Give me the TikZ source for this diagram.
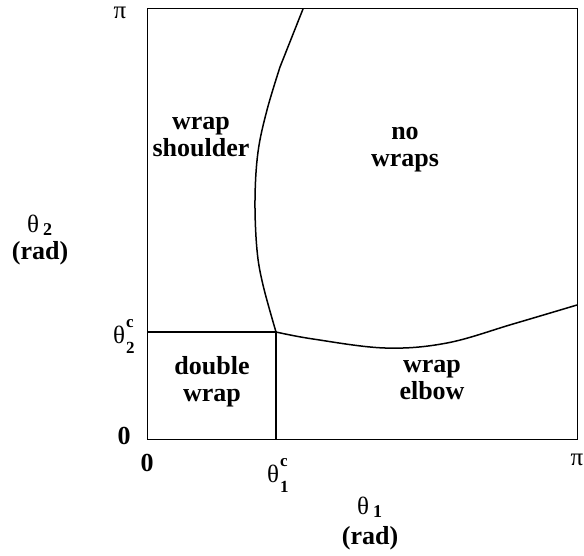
\documentclass[tikz,border=0pt]{standalone}
\usepackage{fontspec}
\setmainfont{Liberation Serif}
\tikzset{
  lbl/.style={font=\fontsize{26}{27}\selectfont\bfseries, align=center, inner sep=0pt},
  sym/.style={font=\fontsize{25}{26}\selectfont, inner sep=0pt},
  bound/.style={line width=1.5pt},
  frame/.style={line width=1pt}
}
\newcommand{\thsub}[2]{θ\kern1pt\rlap{\raisebox{0.62em}{\fontsize{17}{17}\selectfont\bfseries #2}}\raisebox{-0.42em}{\fontsize{17}{17}\selectfont\bfseries #1}}
\newcommand{\thaxis}[1]{θ\kern4pt\raisebox{-0.12em}{\fontsize{18}{18}\selectfont\bfseries #1}}
\begin{document}
\begin{tikzpicture}[x=1pt,y=-1pt]
\useasboundingbox (0,0) rectangle (584,556);
\coordinate (O) at (147,439);
\coordinate (TR) at (577,9);
\coordinate (C) at (276,332);
\coordinate (L) at (147,332);
\coordinate (B) at (276,439);
\coordinate (T) at (303,9);
\coordinate (K) at (280,67);
\coordinate (R) at (577,305);
\draw[frame] (O) rectangle (TR);
\draw[bound] (L) -- (C) -- (B);
\draw[bound] (T) -- (K);
\draw[bound] plot[smooth, tension=0.6] coordinates {(K) (267,110) (258,152) (255,200) (257,250) (263,285) (C)};
\draw[bound] plot[smooth, tension=0.6] coordinates {(C) (313,339) (385,348) (447,343) (513,324) (R)};
\node[sym] (pitop) at (120,13) {π};
\node[sym] (pibot) at (577,460) {π};
\node[lbl] (zl) at (124,436) {0};
\node[lbl] (zb) at (147,463) {0};
\node[sym, anchor=base west] (t2c) at (113,343) {\thsub{2}{c}};
\node[sym, anchor=base west] (t1c) at (267,482) {\thsub{1}{c}};
\node[sym, anchor=base west] (t2) at (27,233) {\thaxis{2}};
\node[lbl] (r2) at (40,253) {(rad)};
\node[sym, anchor=base west] (t1) at (357,514) {\thaxis{1}};
\node[lbl] (r1) at (370,538) {(rad)};
\node[lbl] (ws) at (201,137) {wrap\\shoulder};
\node[lbl] (nw) at (405,150) {no\\wraps};
\node[lbl] (dw) at (212,382) {double\\wrap};
\node[lbl] (we) at (432,380) {wrap\\elbow};
\end{tikzpicture}
\end{document}
